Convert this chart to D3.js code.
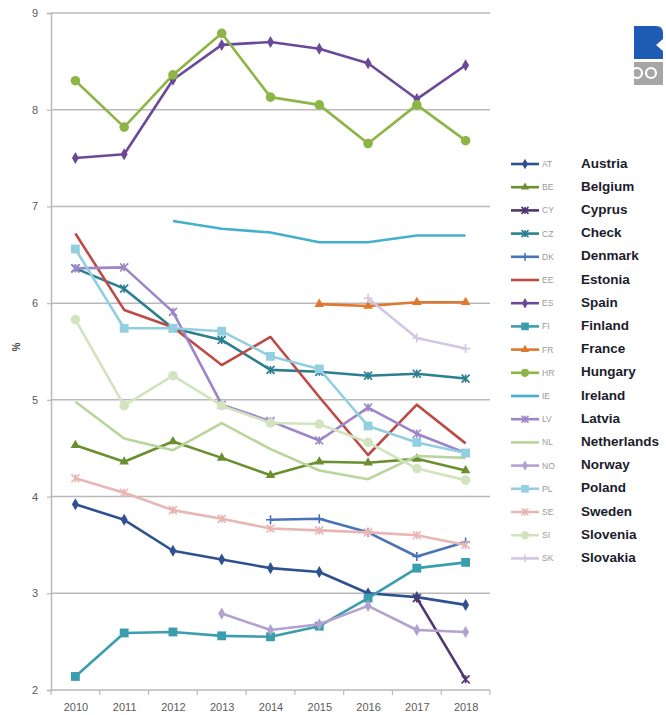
<!DOCTYPE html>
<html>
<head>
<meta charset="utf-8">
<script src="https://cdn.jsdelivr.net/npm/d3@7"></script>
<style>
  html, body { margin: 0; padding: 0; background: #ffffff; }
  svg { display: block; }
</style>
</head>
<body>
<svg id="chart" width="666" height="715"></svg>
<script>
// Years on the category axis
const years = [2010, 2011, 2012, 2013, 2014, 2015, 2016, 2017, 2018];
const yTicks = [2, 3, 4, 5, 6, 7, 8, 9];

// Series values (%), null where a country has no figure for that year
const AT = [3.92, 3.76, 3.44, 3.35, 3.26, 3.22, 3.00, 2.96, 2.88];
const BE = [4.53, 4.36, 4.57, 4.40, 4.22, 4.36, 4.35, 4.39, 4.27];
const CY = [null, null, null, null, null, null, null, 2.95, 2.11];
const CZ = [6.36, 6.15, 5.74, 5.62, 5.31, 5.29, 5.25, 5.27, 5.22];
const DK = [null, null, null, null, 3.76, 3.77, 3.63, 3.38, 3.53];
const EE = [6.72, 5.93, 5.75, 5.36, 5.65, 5.03, 4.43, 4.95, 4.55];
const ES = [7.50, 7.54, 8.31, 8.67, 8.70, 8.63, 8.48, 8.11, 8.46];
const FI = [2.14, 2.59, 2.60, 2.56, 2.55, 2.66, 2.95, 3.26, 3.32];
const FR = [null, null, null, null, null, 5.99, 5.97, 6.01, 6.01];
const HR = [8.30, 7.82, 8.36, 8.79, 8.13, 8.05, 7.65, 8.05, 7.68];
const IE = [null, null, 6.85, 6.77, 6.73, 6.63, 6.63, 6.70, 6.70];
const LV = [6.36, 6.37, 5.91, 4.95, 4.78, 4.58, 4.92, 4.65, 4.45];
const NL = [4.98, 4.60, 4.48, 4.76, 4.49, 4.27, 4.18, 4.42, 4.40];
const NO = [null, null, null, 2.79, 2.62, 2.68, 2.87, 2.62, 2.60];
const PL = [6.56, 5.74, 5.74, 5.71, 5.45, 5.32, 4.73, 4.56, 4.45];
const SE = [4.19, 4.04, 3.86, 3.77, 3.67, 3.65, 3.63, 3.60, 3.50];
const SI = [5.83, 4.94, 5.25, 4.94, 4.76, 4.75, 4.56, 4.29, 4.17];
const SK = [null, null, null, null, null, null, 6.05, 5.64, 5.53];

const codes = ["AT", "BE", "CY", "CZ", "DK", "EE", "ES", "FI", "FR", "HR", "IE", "LV", "NL", "NO", "PL", "SE", "SI", "SK"];
const names = ["Austria", "Belgium", "Cyprus", "Check", "Denmark", "Estonia", "Spain", "Finland", "France", "Hungary", "Ireland", "Latvia", "Netherlands", "Norway", "Poland", "Sweden", "Slovenia", "Slovakia"];
const values = [AT, BE, CY, CZ, DK, EE, ES, FI, FR, HR, IE, LV, NL, NO, PL, SE, SI, SK];

// Styling per series
const colors = ["#2f5190", "#6a8f2e", "#4e3670", "#2c7f90", "#4a72b8", "#bd4a45", "#6a4a98", "#3a9eae", "#e0782f", "#8db545", "#45b0cc", "#9c86c8", "#b8d59b", "#b3a1cf", "#92cfe0", "#e7b6b5", "#d2e4bd", "#d0c7e2"];
const markers = ["diamond", "triangle", "star", "star", "plus", "none", "diamond", "square", "triangle", "circle", "none", "star", "none", "diamond", "square", "star", "circle", "plus"];

const svg = d3.select("#chart");

const x = d3.scalePoint().domain(years).range([51, 490]).padding(0.5);
const y = d3.scaleLinear().domain([2, 9]).range([690, 13]);

// Horizontal gridlines
svg.append("g")
  .selectAll("line")
  .data(yTicks)
  .join("line")
  .attr("x1", 51).attr("x2", 490)
  .attr("y1", d => y(d)).attr("y2", d => y(d))
  .attr("stroke", "#b9b9b9")
  .attr("stroke-width", 1.5);

// Y axis
const yAxis = svg.append("g")
  .attr("transform", "translate(51,0)")
  .call(d3.axisLeft(y).tickValues(yTicks).tickSize(4).tickPadding(9).tickFormat(d3.format("d")));
yAxis.select(".domain").attr("stroke", "#b9b9b9").attr("stroke-width", 1.5);
yAxis.selectAll(".tick line").attr("stroke", "#b9b9b9").attr("stroke-width", 1.2);
yAxis.selectAll(".tick text")
  .attr("font-family", "Liberation Sans, Arial, sans-serif")
  .attr("font-size", 11)
  .attr("fill", "#5a5a5a");

// X axis: labels under each year, tick marks between categories
const xAxis = svg.append("g")
  .attr("transform", "translate(0,690)")
  .call(d3.axisBottom(x).tickSize(0).tickPadding(13));
xAxis.select(".domain").remove();
xAxis.selectAll(".tick text")
  .attr("font-family", "Liberation Sans, Arial, sans-serif")
  .attr("font-size", 11)
  .attr("fill", "#5a5a5a");
const step = x.step();
const bounds = years.map(d => x(d) - step / 2).concat([x(years[years.length - 1]) + step / 2]);
svg.append("g")
  .selectAll("line")
  .data(bounds)
  .join("line")
  .attr("x1", d => d).attr("x2", d => d)
  .attr("y1", 690).attr("y2", 695)
  .attr("stroke", "#b9b9b9")
  .attr("stroke-width", 1.2);

// Y axis title
svg.append("text")
  .attr("transform", "translate(17,347) rotate(-90)")
  .attr("text-anchor", "middle")
  .attr("dominant-baseline", "middle")
  .attr("font-family", "Liberation Sans, Arial, sans-serif")
  .attr("font-size", 10)
  .attr("font-weight", "bold")
  .attr("fill", "#444")
  .text("%");

// Marker drawing
function drawMarker(g, type, color, cx, cy, s) {
  const k = s || 1;
  if (type === "diamond") {
    g.append("path")
      .attr("d", d3.symbol(d3.symbolDiamond, 42 * k)())
      .attr("transform", `translate(${cx},${cy})`)
      .attr("fill", color);
  } else if (type === "triangle") {
    g.append("path")
      .attr("d", d3.symbol(d3.symbolTriangle, 40 * k)())
      .attr("transform", `translate(${cx},${cy})`)
      .attr("fill", color);
  } else if (type === "square") {
    g.append("path")
      .attr("d", d3.symbol(d3.symbolSquare, 78 * k)())
      .attr("transform", `translate(${cx},${cy})`)
      .attr("fill", color);
  } else if (type === "circle") {
    g.append("path")
      .attr("d", d3.symbol(d3.symbolCircle, 72 * k)())
      .attr("transform", `translate(${cx},${cy})`)
      .attr("fill", color);
  } else if (type === "star") {
    const r = 4 * Math.sqrt(k);
    g.append("path")
      .attr("d", `M${cx - r},${cy - r}L${cx + r},${cy + r}M${cx - r},${cy + r}L${cx + r},${cy - r}M${cx},${cy - r}L${cx},${cy + r}`)
      .attr("stroke", color).attr("stroke-width", 1.6).attr("fill", "none");
  } else if (type === "plus") {
    const r = 4.5 * Math.sqrt(k);
    g.append("path")
      .attr("d", `M${cx - r},${cy}L${cx + r},${cy}M${cx},${cy - r}L${cx},${cy + r}`)
      .attr("stroke", color).attr("stroke-width", 1.6).attr("fill", "none");
  }
}

// Series lines with markers
const line = d3.line()
  .defined(d => d.v != null)
  .x(d => x(d.year))
  .y(d => y(d.v));

const plot = svg.append("g");
codes.forEach((code, i) => {
  const pts = years.map((yr, j) => ({ year: yr, v: values[i][j] }));
  const g = plot.append("g").attr("class", "series-" + code);
  g.append("path")
    .datum(pts)
    .attr("d", line)
    .attr("fill", "none")
    .attr("stroke", colors[i])
    .attr("stroke-width", 2.6)
    .attr("stroke-linejoin", "round");
  pts.filter(d => d.v != null).forEach(d => drawMarker(g, markers[i], colors[i], x(d.year), y(d.v)));
});

// Legend
const legend = svg.append("g");
codes.forEach((code, i) => {
  const ry = 164 + i * 23.2;
  legend.append("line")
    .attr("x1", 511).attr("x2", 539)
    .attr("y1", ry).attr("y2", ry)
    .attr("stroke", colors[i]).attr("stroke-width", 2.6);
  drawMarker(legend, markers[i], colors[i], 525, ry, 0.75);
  legend.append("text")
    .attr("x", 542).attr("y", ry + 3)
    .attr("font-family", "Liberation Sans, Arial, sans-serif")
    .attr("font-size", 8.5)
    .attr("fill", "#9a9a9a")
    .text(code);
  legend.append("text")
    .attr("x", 581).attr("y", ry + 3.5)
    .attr("font-family", "Liberation Sans, Arial, sans-serif")
    .attr("font-size", 13.5)
    .attr("font-weight", "bold")
    .attr("fill", "#1c1c2c")
    .text(names[i]);
});

// Corner logo
const logo = svg.append("g");
logo.append("path")
  .attr("d", "M634,26H656Q663,26 663,33V39L656,45L663,51V59H634Z")
  .attr("fill", "#1d5bb5");
logo.append("clipPath").attr("id", "logoBand")
  .append("rect").attr("x", 634).attr("y", 62).attr("width", 29).attr("height", 23);
logo.append("rect")
  .attr("x", 634).attr("y", 62).attr("width", 29).attr("height", 23)
  .attr("fill", "#a6a6a6");
[637, 651].forEach(cx => {
  logo.append("circle")
    .attr("cx", cx).attr("cy", 73).attr("r", 5)
    .attr("fill", "none").attr("stroke", "#ffffff").attr("stroke-width", 2.2)
    .attr("clip-path", "url(#logoBand)");
});
</script>
</body>
</html>
